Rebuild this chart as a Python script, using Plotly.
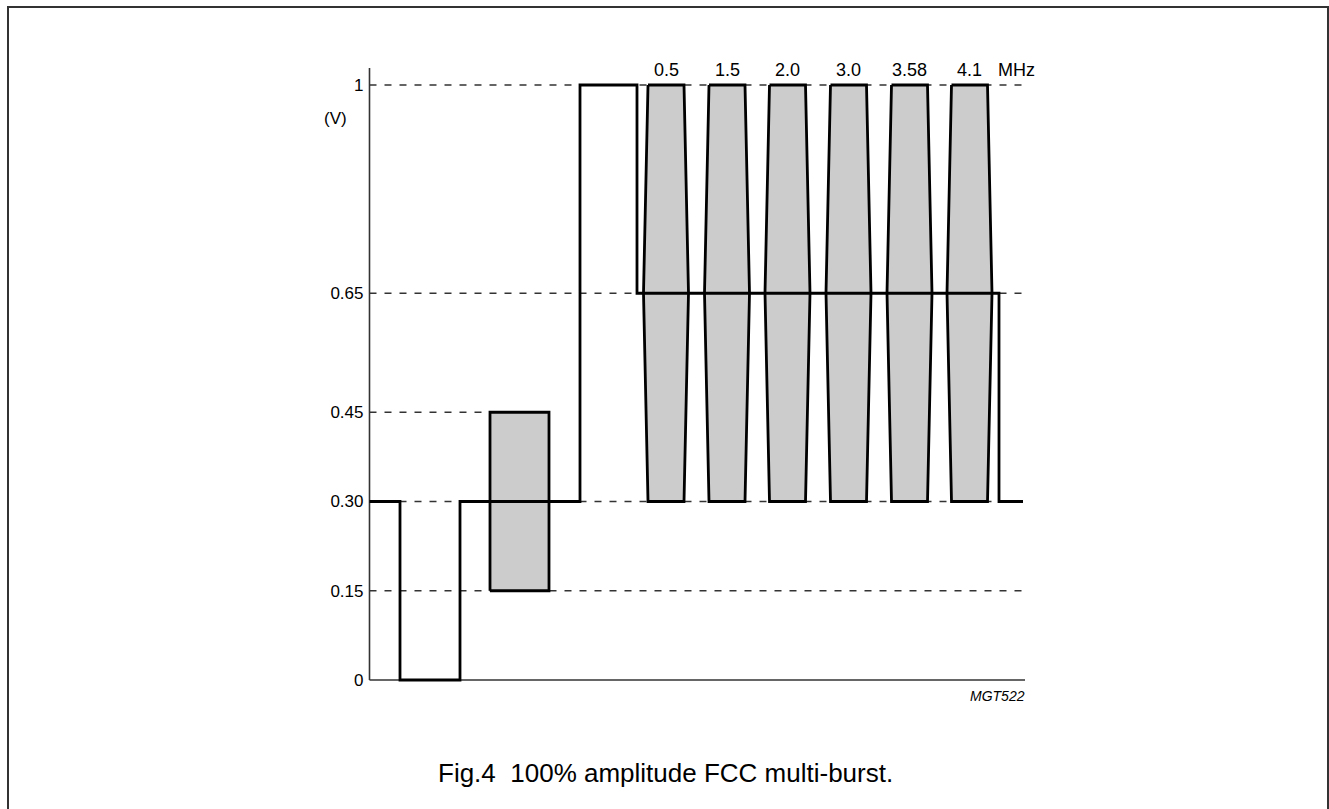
import plotly.graph_objects as go

# ---------------- data ----------------
# time axis in arbitrary units, voltage axis in volts
tick_vals = [0, 0.15, 0.30, 0.45, 0.65, 1]
tick_text = ["0", "0.15", "0.30", "0.45", "0.65", "1"]

# dashed reference levels and where each one ends on the time axis
ref_levels = [1, 0.65, 0.45, 0.30, 0.15]
ref_ends = [65.9, 66.0, 12.0, 65.3, 65.2]

# main (solid) waveform
wave_t = [0, 3.05, 3.05, 9.05, 9.05, 21.05, 21.05, 26.75, 26.75, 62.95, 62.95, 65.35]
wave_v = [0.30, 0.30, 0, 0, 0.30, 0.30, 1, 1, 0.65, 0.65, 0.30, 0.30]

# grey block (0.15 .. 0.45 V)
block_t = [12.05, 17.95]
block_v = [0.15, 0.45]

# multi-burst packets
burst_labels = ["0.5", "1.5", "2.0", "3.0", "3.58", "4.1"]
burst_centers = [29.65, 35.75, 41.8, 47.9, 54.0, 60.0]
burst_half_edge = 1.8     # half width at 1 V and 0.3 V
burst_half_mid = 2.25     # half width at 0.65 V
burst_levels = [1, 0.65, 0.30]

axis_top = 1.0286
axis_right = 65.55

# ---------------- figure ----------------
W, H = 1329, 809
X0_PX, PX_PER_UNIT = 369.5, 10.0
Y0_PX, PX_PER_VOLT = 680.0, 595.0

xr = [(0 - X0_PX) / PX_PER_UNIT, (W - X0_PX) / PX_PER_UNIT]
yr = [(Y0_PX - H) / PX_PER_VOLT, Y0_PX / PX_PER_VOLT]

FONT = "Liberation Sans, Arial, sans-serif"
BLACK = "#000000"
DARK = "#333333"
GREY_FILL = "#cccccc"

fig = go.Figure()

# dashed reference lines
for lv, end in zip(ref_levels, ref_ends):
    fig.add_trace(go.Scatter(
        x=[0, end], y=[lv, lv], mode="lines",
        line=dict(color=DARK, width=1.4, dash="7px,8px"),
        hoverinfo="skip", showlegend=False))

# axes lines
fig.add_trace(go.Scatter(x=[0, 0], y=[0, axis_top], mode="lines",
                         line=dict(color=DARK, width=1.6),
                         hoverinfo="skip", showlegend=False))
fig.add_trace(go.Scatter(x=[0, axis_right], y=[0, 0], mode="lines",
                         line=dict(color=DARK, width=1.6),
                         hoverinfo="skip", showlegend=False))

# grey block
fig.add_trace(go.Scatter(
    x=[block_t[0], block_t[1], block_t[1], block_t[0], block_t[0]],
    y=[block_v[0], block_v[0], block_v[1], block_v[1], block_v[0]],
    mode="lines", fill="toself", fillcolor=GREY_FILL,
    line=dict(color=BLACK, width=2.8),
    hoverinfo="skip", showlegend=False))

# bursts
for c in burst_centers:
    xs = [c - burst_half_edge, c + burst_half_edge, c + burst_half_mid,
          c + burst_half_edge, c - burst_half_edge, c - burst_half_mid,
          c - burst_half_edge]
    ys = [burst_levels[0], burst_levels[0], burst_levels[1],
          burst_levels[2], burst_levels[2], burst_levels[1], burst_levels[0]]
    fig.add_trace(go.Scatter(
        x=xs, y=ys, mode="lines", fill="toself", fillcolor=GREY_FILL,
        line=dict(color=BLACK, width=2.8),
        hoverinfo="skip", showlegend=False))

# main waveform
fig.add_trace(go.Scatter(x=wave_t, y=wave_v, mode="lines",
                         line=dict(color=BLACK, width=2.8),
                         hoverinfo="skip", showlegend=False))

annotations = []
for lab, c in zip(burst_labels, burst_centers):
    annotations.append(dict(x=c, y=1.0252, xref="x", yref="y", text=lab,
                            showarrow=False, xanchor="center", yanchor="middle",
                            font=dict(family=FONT, size=18, color=BLACK)))
annotations.append(dict(x=64.65, y=1.0252, xref="x", yref="y", text="MHz",
                        showarrow=False, xanchor="center", yanchor="middle",
                        font=dict(family=FONT, size=18, color=BLACK)))
annotations.append(dict(x=-3.45, y=0.9429, xref="x", yref="y", text="(V)",
                        showarrow=False, xanchor="center", yanchor="middle",
                        font=dict(family=FONT, size=17, color=BLACK)))
annotations.append(dict(x=axis_right + 0.2, y=-0.0268, xref="x", yref="y",
                        text="<i>MGT522</i>", showarrow=False,
                        xanchor="right", yanchor="middle",
                        font=dict(family=FONT, size=14, color=BLACK)))
annotations.append(dict(x=665 / W, y=1 - 773 / H, xref="paper", yref="paper",
                        text="Fig.4  100% amplitude FCC multi-burst.",
                        showarrow=False, xanchor="center", yanchor="middle",
                        font=dict(family=FONT, size=26, color=BLACK)))

fig.update_layout(
    width=W, height=H,
    margin=dict(l=0, r=0, t=0, b=0, pad=0),
    paper_bgcolor="white", plot_bgcolor="white",
    showlegend=False,
    xaxis=dict(range=xr, visible=False, fixedrange=True),
    yaxis=dict(range=yr, anchor="free", position=X0_PX / W, side="left",
               tickvals=tick_vals, ticktext=tick_text,
               showgrid=False, zeroline=False, showline=False,
               ticks="", ticklabelstandoff=6,
               tickfont=dict(family=FONT, size=17, color=BLACK),
               fixedrange=True),
    annotations=annotations,
    shapes=[dict(type="rect", xref="paper", yref="paper",
                 x0=8 / W, x1=1328 / W, y0=-0.02, y1=1 - 7 / H,
                 line=dict(color=DARK, width=2), fillcolor="rgba(0,0,0,0)",
                 layer="above")],
)

fig.write_html("out.html", config={"displayModeBar": False, "staticPlot": True},
               post_script="document.body.style.margin='0';")
